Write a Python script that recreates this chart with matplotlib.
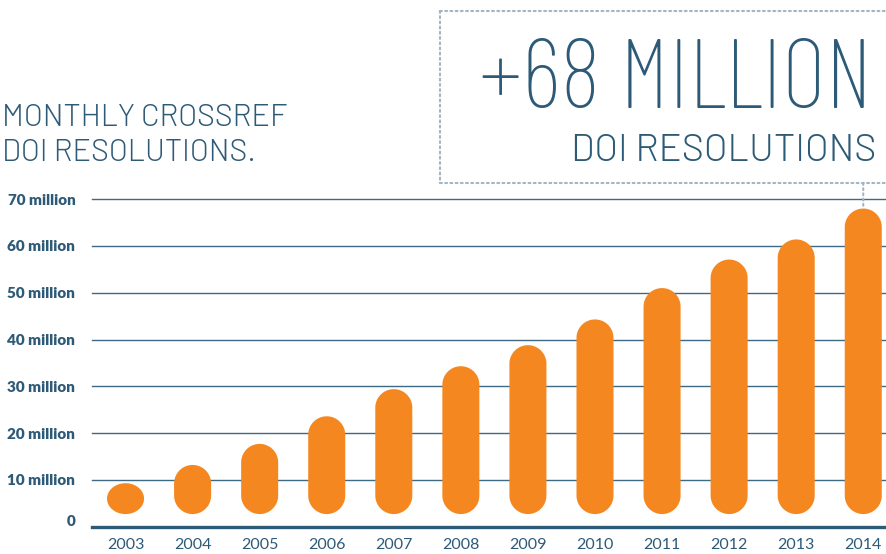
import matplotlib
matplotlib.use("Agg")
import matplotlib.pyplot as plt
import numpy as np
from matplotlib.patches import Polygon
from matplotlib.lines import Line2D
import matplotlib.transforms as mtransforms

# ---- data ----
years = [2003, 2004, 2005, 2006, 2007, 2008, 2009, 2010, 2011, 2012, 2013, 2014]
resolutions_million = [9.3, 13.2, 17.7, 23.6, 29.4, 34.3, 38.8, 44.3, 51.0, 57.1, 61.4, 68.0]
ytick_values = [0, 10, 20, 30, 40, 50, 60, 70]
ytick_labels = ["0", "10 million", "20 million", "30 million", "40 million",
                "50 million", "60 million", "70 million"]
year_labels = [str(y) for y in years]
title_lines = ["MONTHLY CROSSREF", "DOI RESOLUTIONS."]
headline = "+68 MILLION"
subheadline = "DOI RESOLUTIONS"

# ---- style ----
NAVY = "#2d5a77"
GRID = "#3f6a86"
ORANGE = "#f58720"
DOT = "#a3b5c3"
BAR_BASE = 2.7
BAR_WIDTH = 0.552

W, H = 887, 554
fig = plt.figure(figsize=(W / 100, H / 100), dpi=100)
fig.patch.set_facecolor("white")

y0px = 526.7
pxper = 4.6786
ytop = 70.6
ax_left = 92 / W
ax_bottom = (H - y0px) / H
ax_height = (ytop * pxper) / H
ax = fig.add_axes([ax_left, ax_bottom, 1 - ax_left, ax_height])
ax.set_xlim(2002.5, 2014.354)
ax.set_ylim(0, ytop)
for s in ax.spines.values():
    s.set_visible(False)

# gridlines
for v in ytick_values[1:]:
    ax.axhline(v, color=GRID, lw=1.0, zorder=1, clip_on=False)
ax.axhline(0, color=NAVY, lw=2.4, zorder=1, clip_on=False)

# pill bars
fig.canvas.draw()
p0 = ax.transData.transform((2003, 0))
p1 = ax.transData.transform((2004, 1))
px_x = p1[0] - p0[0]
px_y = p1[1] - p0[1]
rx = BAR_WIDTH / 2
ry_full = rx * px_x / px_y
t_top = np.linspace(0, np.pi, 60)
t_bot = np.linspace(np.pi, 2 * np.pi, 60)
for x, v in zip(years, resolutions_million):
    ry = min(ry_full, (v - BAR_BASE) / 2)
    ct = v - ry
    cb = BAR_BASE + ry
    pts = np.concatenate([
        np.column_stack([x + rx * np.cos(t_top), ct + ry * np.sin(t_top)]),
        np.column_stack([x + rx * np.cos(t_bot), cb + ry * np.sin(t_bot)]),
    ])
    ax.add_patch(Polygon(pts, closed=True, facecolor=ORANGE, edgecolor="none", zorder=3))

# ticks
lfam = ["Lato", "DejaVu Sans"]
ax.set_yticks(ytick_values)
ax.set_yticklabels(ytick_labels, fontsize=11, fontweight="heavy", color=NAVY, family=lfam)
ax.tick_params(axis="y", length=0, pad=12)
ax.set_xticks(years)
ax.set_xticklabels(year_labels, fontsize=11.5, color=NAVY, family=lfam, fontweight="normal")
ax.tick_params(axis="x", length=0, pad=8)
zero_lbl = ax.get_yticklabels()[0]
zero_lbl.set_transform(zero_lbl.get_transform() +
                       mtransforms.ScaledTranslation(0, 6 / 100, fig.dpi_scale_trans))

# title
tfam = ["Barlow", "DejaVu Sans"]
fig.text(2 / W, 1 - 126 / H, title_lines[0], fontsize=22, color=NAVY, family=tfam,
         fontweight=300, ha="left", va="baseline")
fig.text(2 / W, 1 - 161 / H, title_lines[1], fontsize=22, color=NAVY, family=tfam,
         fontweight=300, ha="left", va="baseline")

# headline box
fig.text(872 / W, 1 - 108 / H, headline, fontsize=70, color=NAVY,
         family=["Barlow Condensed", "DejaVu Sans"], fontweight=100, ha="right", va="baseline")
fig.text(876 / W, 1 - 161 / H, subheadline, fontsize=27.3, color=NAVY, family=tfam,
         fontweight=300, ha="right", va="baseline")

dash = (0, (0.9, 1.6))
bx0, by0, by1 = 440, 10.5, 183
for xs, ys in [([bx0, W + 5], [by0, by0]), ([bx0, bx0], [by0, by1]), ([bx0, W + 5], [by1, by1])]:
    fig.add_artist(Line2D([x / W for x in xs], [1 - y / H for y in ys], transform=fig.transFigure,
                          color=DOT, lw=1.5, linestyle=dash, dash_capstyle="round"))

ax.annotate("", xy=(years[-1], resolutions_million[-1] + 0.3), xycoords="data",
            xytext=(years[-1], H - by1), textcoords=("data", "figure pixels"),
            arrowprops=dict(arrowstyle="-", color=DOT, lw=1.5, linestyle=dash,
                            shrinkA=0, shrinkB=0))

fig.savefig("out.png", dpi=100, facecolor="white")
